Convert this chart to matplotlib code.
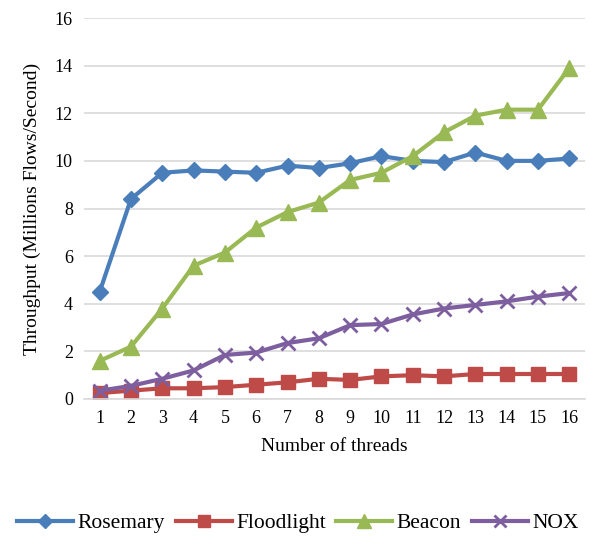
import matplotlib
matplotlib.use("Agg")
import matplotlib.pyplot as plt

# ---- Data ----
threads = list(range(1, 17))
rosemary = [4.5, 8.4, 9.5, 9.6, 9.55, 9.5, 9.8, 9.7, 9.9, 10.2, 10.0, 9.95, 10.35, 10.0, 10.0, 10.1]
floodlight = [0.25, 0.35, 0.45, 0.45, 0.5, 0.6, 0.7, 0.85, 0.8, 0.95, 1.0, 0.95, 1.05, 1.05, 1.05, 1.05]
beacon = [1.6, 2.2, 3.8, 5.6, 6.15, 7.2, 7.85, 8.25, 9.2, 9.5, 10.2, 11.2, 11.9, 12.15, 12.15, 13.9]
nox = [0.35, 0.55, 0.85, 1.2, 1.85, 1.95, 2.35, 2.55, 3.1, 3.15, 3.55, 3.8, 3.95, 4.1, 4.3, 4.45]

plt.rcParams['font.family'] = ['Liberation Serif', 'DejaVu Serif']

fig = plt.figure(figsize=(5.9, 5.36), dpi=100)
ax = fig.add_axes([0.1424, 0.2556, 0.849, 0.7108])

ax.plot(threads, rosemary, color='#4a7ebb', lw=3, marker='D', ms=8, label='Rosemary')
ax.plot(threads, floodlight, color='#be4b48', lw=3, marker='s', ms=10, label='Floodlight')
ax.plot(threads, beacon, color='#98b954', lw=3, marker='^', ms=11, label='Beacon')
ax.plot(threads, nox, color='#7d5fa0', lw=3, marker='x', ms=10, mew=2, label='NOX')

ax.set_xlim(0.5, 16.5)
ax.set_ylim(0, 16)
ax.set_xticks(threads)
ax.set_yticks(range(0, 17, 2))
ax.grid(axis='y', color='#d9d9d9', lw=1.2)
ax.set_axisbelow(True)
for s in ['top', 'right', 'left']:
    ax.spines[s].set_visible(False)
ax.spines['bottom'].set_color('#d9d9d9')
ax.spines['bottom'].set_linewidth(1.2)
ax.tick_params(length=0, labelsize=13, pad=8)
ax.set_xlabel('Number of threads', fontsize=14, labelpad=8)
ax.set_ylabel('Throughput (Millions Flows/Second)', fontsize=14, labelpad=10)

fig.legend(loc='center', bbox_to_anchor=(0.505, 0.024), ncol=4, frameon=False,
           fontsize=15.5, handlelength=2.6, columnspacing=0.5, handletextpad=0.2,
           markerscale=0.9)

fig.savefig('out.png', dpi=100)
